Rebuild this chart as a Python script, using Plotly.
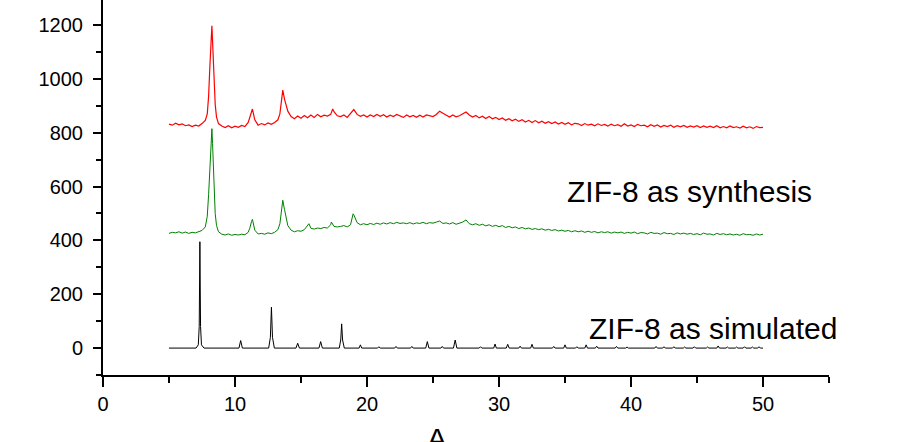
import plotly.graph_objects as go

# 2-theta grid (deg) for the measured patterns
theta_grid = [5 + 0.25 * i for i in range(181)]

# ZIF-8 as synthesis, upper (red) pattern, values on theta_grid
red_base = [
    832, 828, 835, 829, 833, 826, 829, 823, 828, 825, 834, 846,
    935, 1197, 905, 834, 825, 819, 826, 818, 824, 820, 827, 823,
    838, 880, 848, 828, 834, 829, 836, 831, 838, 848, 905, 925,
    880, 860, 852, 862, 854, 864, 856, 866, 857, 868, 859, 865,
    862, 868, 878, 863, 860, 866, 857, 870, 886, 868, 861, 866,
    858, 866, 860, 868, 861, 867, 858, 865, 860, 868, 862, 857,
    866, 859, 864, 857, 865, 858, 866, 862, 860, 868, 880, 872,
    864, 858, 866, 859, 863, 870, 877, 866, 858, 864, 855, 861,
    853, 860, 852, 857, 849, 855, 846, 852, 844, 850, 842, 848,
    840, 846, 838, 845, 837, 843, 835, 841, 834, 840, 832, 838,
    831, 837, 829, 835, 833, 827, 834, 828, 832, 826, 833, 827,
    831, 825, 832, 826, 830, 824, 833, 825, 829, 823, 831, 826,
    828, 822, 830, 824, 829, 821, 827, 823, 828, 820, 826, 822,
    827, 820, 825, 821, 826, 819, 825, 820, 824, 819, 826, 818,
    823, 818, 825, 819, 822, 817, 824, 818, 822, 816, 823, 819,
    820,
]
# extra points that shape the red peaks
red_peak_x = [7.9, 8.1, 8.2, 8.3, 8.4, 8.6, 11.12, 11.32, 13.4, 13.62, 17.4]
red_peak_y = [870, 1050, 1180, 1140, 1010, 858, 855, 888, 870, 958, 888]

# ZIF-8 as synthesis, lower (green) pattern, values on theta_grid
green_base = [
    426, 430, 428, 432, 427, 431, 426, 430, 428, 432, 437, 450,
    570, 815, 500, 432, 423, 420, 424, 419, 422, 420, 423, 421,
    430, 470, 438, 424, 426, 423, 428, 425, 430, 440, 500, 515,
    455, 438, 432, 436, 434, 440, 458, 445, 442, 446, 444, 448,
    446, 458, 452, 450, 452, 455, 450, 458, 495, 466, 458, 462,
    458, 463, 459, 464, 460, 465, 461, 466, 462, 467, 463, 465,
    462, 466, 461, 465, 463, 467, 462, 466, 464, 468, 472, 463,
    465, 461, 466, 460, 464, 468, 476, 462, 458, 462, 456, 460,
    454, 458, 452, 456, 451, 455, 448, 452, 447, 450, 444, 448,
    443, 446, 441, 444, 440, 443, 438, 441, 437, 440, 435, 438,
    434, 437, 432, 436, 432, 435, 430, 434, 430, 433, 428, 432,
    429, 432, 427, 431, 428, 431, 426, 430, 427, 431, 425, 429,
    428, 424, 430, 426, 427, 423, 429, 425, 426, 422, 428, 424,
    427, 423, 426, 422, 425, 421, 427, 423, 424, 420, 426, 422,
    425, 421, 424, 420, 423, 419, 425, 421, 422, 419, 424, 420,
    423,
]
green_peak_x = [7.9, 8.1, 8.2, 8.3, 8.4, 8.6, 11.12, 11.32, 13.4, 13.62, 15.6, 17.3, 18.95]
green_peak_y = [490, 690, 800, 760, 610, 455, 445, 478, 462, 549, 462, 468, 499]

# ZIF-8 as simulated (black)
sim_x = [
    5.0, 7.05, 7.22, 7.29, 7.34, 7.39, 7.46, 7.65,
    10.3, 10.43, 10.56, 12.55, 12.68, 12.76, 12.84, 12.98,
    14.62, 14.75, 14.88, 16.36, 16.49, 16.62,
    17.9, 18.01, 18.08, 18.15, 18.28,
    19.4, 19.5, 19.6, 20.8, 20.9, 21.0, 22.1, 22.2, 22.3,
    23.3, 23.4, 23.5, 24.45, 24.57, 24.69, 25.6, 25.7, 25.8,
    26.55, 26.68, 26.81, 28.5, 28.6, 28.7, 29.6, 29.7, 29.8,
    30.55, 30.66, 30.77, 31.5, 31.6, 31.7, 32.4, 32.5, 32.6,
    34.05, 34.15, 34.25, 34.9, 35.0, 35.1, 35.8, 35.9, 36.0,
    36.5, 36.6, 36.7, 37.3, 37.4, 37.5, 38.8, 38.9, 39.0,
    39.6, 39.7, 39.8, 41.8, 41.9, 42.0, 42.4, 42.5, 42.6,
    43.15, 43.25, 43.35, 43.96, 44.06, 44.16, 44.7, 44.8, 44.9,
    45.7, 45.8, 45.9, 46.5, 46.6, 46.7, 47.2, 47.3, 47.4,
    47.9, 48.0, 48.1, 48.5, 48.6, 48.7, 49.1, 49.2, 49.3,
    49.6, 49.7, 49.8, 50.0,
]
sim_y = [
    0, 0, 12, 80, 395, 80, 12, 0,
    0, 28, 0, 0, 40, 152, 40, 0,
    0, 18, 0, 0, 24, 0,
    0, 30, 90, 30, 0,
    0, 12, 0, 0, 5, 0, 0, 6, 0,
    0, 6, 0, 0, 24, 0, 0, 6, 0,
    0, 30, 0, 0, 5, 0, 0, 15, 0,
    0, 14, 0, 0, 7, 0, 0, 14, 0,
    0, 6, 0, 0, 12, 0, 0, 5, 0,
    0, 12, 0, 0, 7, 0, 0, 6, 0,
    0, 4, 0, 0, 6, 0, 0, 5, 0,
    0, 5, 0, 0, 4, 0, 0, 5, 0,
    0, 4, 0, 0, 8, 0, 0, 4, 0,
    0, 4, 0, 0, 5, 0, 0, 4, 0,
    0, 5, 0, 0,
]

labels = ["ZIF-8 as synthesis", "ZIF-8 as simulated"]
label_x = [35.0, 36.7]
label_y = [583, 71]


def merge(base, px, py):
    pts = sorted(list(zip(theta_grid, base)) + list(zip(px, py)))
    return [p[0] for p in pts], [p[1] for p in pts]


fig = go.Figure()

rx, ry = merge(red_base, red_peak_x, red_peak_y)
gx, gy = merge(green_base, green_peak_x, green_peak_y)

fig.add_trace(go.Scatter(x=rx, y=ry, mode="lines", line=dict(color="#ff0000", width=1.2)))
fig.add_trace(go.Scatter(x=gx, y=gy, mode="lines", line=dict(color="#008000", width=1)))
fig.add_trace(go.Scatter(x=sim_x, y=sim_y, mode="lines", line=dict(color="#000000", width=1)))

for txt, xv, yv in zip(labels, label_x, label_y):
    fig.add_annotation(x=xv, y=yv, text=txt, showarrow=False, xanchor="left", yanchor="middle",
                       font=dict(family="Liberation Sans, Arial", size=30, color="#000000"))

# x-axis title, cut off by the bottom edge of the picture
fig.add_annotation(x=0.46, xref="paper", y=-0.17, yref="paper", text="A", showarrow=False,
                   yanchor="middle", font=dict(family="Liberation Sans, Arial", size=30, color="#000000"))

axis_font = dict(family="Liberation Sans, Arial", size=20, color="#000000")
fig.update_xaxes(range=[0, 55], showline=True, linecolor="black", linewidth=2,
                 ticks="outside", ticklen=10, tickwidth=2, tickcolor="black",
                 tick0=0, dtick=10, showgrid=False, zeroline=False, tickfont=axis_font,
                 minor=dict(ticks="outside", ticklen=6, tickwidth=2, tickcolor="black", dtick=5, showgrid=False))
fig.update_yaxes(range=[-100, 1293], showline=True, linecolor="black", linewidth=2,
                 ticks="outside", ticklen=8, tickwidth=2, tickcolor="black",
                 tick0=0, dtick=200, showgrid=False, zeroline=False, tickfont=axis_font,
                 ticklabelstandoff=6,
                 minor=dict(ticks="outside", ticklen=5, tickwidth=2, tickcolor="black", dtick=100, showgrid=False))

fig.update_layout(width=900, height=442, showlegend=False,
                  margin=dict(l=103, r=71, t=0, b=67),
                  paper_bgcolor="white", plot_bgcolor="white")

# drop the browser's default page margin so the figure sits at the top-left corner
fig.write_html("out.html", config={"displayModeBar": False},
               post_script="document.body.style.margin = '0';")
